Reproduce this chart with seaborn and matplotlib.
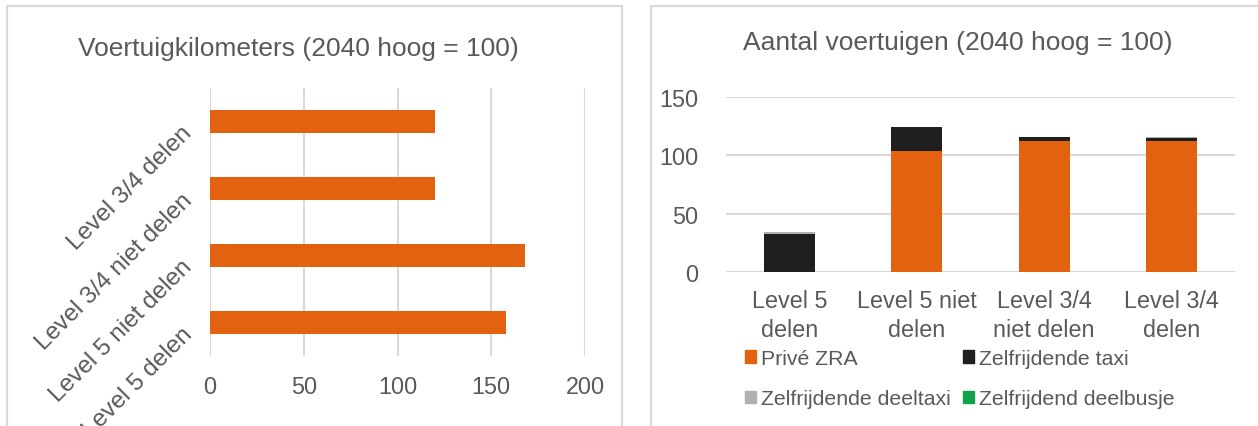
import matplotlib
matplotlib.use("Agg")
import matplotlib.pyplot as plt
import seaborn as sns
from matplotlib.patches import Patch, Rectangle

# Left chart: vehicle kilometres (2040 high = 100)
km_labels = ["Level 3/4 delen", "Level 3/4 niet delen", "Level 5 niet delen", "Level 5 delen"]
km_values = [120, 120, 168, 158]

# Right chart: number of vehicles, stacked
cat_labels = ["Level 5\ndelen", "Level 5 niet\ndelen", "Level 3/4\nniet delen", "Level 3/4\ndelen"]
prive_zra = [0, 103.5, 112, 112]
taxi = [32.5, 20.7, 3.7, 3.0]
deeltaxi = [1.4, 0, 0, 0.5]
deelbusje = [0.6, 0, 0, 0.5]

series_names = ["Privé ZRA", "Zelfrijdende taxi", "Zelfrijdende deeltaxi", "Zelfrijdend deelbusje"]
series_colors = ["#e36210", "#1f1f1f", "#b0b0b0", "#12a04a"]

text_col = "#595959"
grid_col = "#d9d9d9"

sns.set_style("white")
plt.rcParams["font.family"] = ["Liberation Sans", "DejaVu Sans"]
plt.rcParams["text.color"] = text_col
plt.rcParams["xtick.color"] = text_col
plt.rcParams["ytick.color"] = text_col

W, H = 1258, 427
fig = plt.figure(figsize=(W / 100, H / 100), dpi=100)


def px_axes(x0, x1, y0, y1):
    # pixel box (top-left origin) -> figure axes
    return fig.add_axes([x0 / W, 1 - y1 / H, (x1 - x0) / W, (y1 - y0) / H])


# panel frames
for x0, x1 in [(7, 622), (651, 1270)]:
    fig.add_artist(Rectangle((x0 / W, -0.1), (x1 - x0) / W, 1.1 - 7 / H,
                             transform=fig.transFigure, fill=False,
                             edgecolor=grid_col, lw=1.6))

# ---- left chart
ax1 = px_axes(210, 585, 89, 357)
sns.barplot(x=km_values, y=km_labels, orient="h", color=series_colors[0],
            saturation=1, width=0.34, linewidth=0, ax=ax1)
ax1.set_xlim(0, 200)
ax1.set_ylim(3.5, -0.5)
ax1.set_xticks([0, 50, 100, 150, 200])
ax1.grid(axis="x", color=grid_col, lw=1.5)
ax1.set_axisbelow(True)
sns.despine(ax=ax1, left=True, bottom=True)
ax1.tick_params(length=0, labelsize=16.8)
ax1.tick_params(axis="x", pad=14)
ax1.tick_params(axis="y", pad=21, labelsize=17.6)
for lbl in ax1.get_yticklabels():
    lbl.set_rotation(45)
    lbl.set_rotation_mode("anchor")
    lbl.set_ha("right")
    lbl.set_va("top")
ax1.set_xlabel("")
ax1.set_ylabel("")
fig.text(298 / W, 1 - 56 / H, "Voertuigkilometers (2040 hoog = 100)",
         ha="center", va="baseline", fontsize=19)

# ---- right chart
ax2 = px_axes(726, 1235, 98, 273)
layers = [prive_zra, taxi, deeltaxi, deelbusje]
cum = []
run = [0] * len(cat_labels)
for vals in layers:
    run = [a + b for a, b in zip(run, vals)]
    cum.append(run)
# draw tallest stack first so lower segments sit on top
for tops, col in reversed(list(zip(cum, series_colors))):
    sns.barplot(x=cat_labels, y=tops, color=col, saturation=1, width=0.4,
                linewidth=0, ax=ax2)
ax2.set_ylim(0, 150)
ax2.set_xlim(-0.5, 3.5)
ax2.set_yticks([0, 50, 100, 150])
ax2.grid(axis="y", color=grid_col, lw=1.5)
ax2.set_axisbelow(True)
sns.despine(ax=ax2, left=True, bottom=True)
ax2.tick_params(length=0, labelsize=16.8)
ax2.tick_params(axis="x", pad=12)
ax2.tick_params(axis="y", pad=20)
for lbl in ax2.get_xticklabels():
    lbl.set_linespacing(1.35)
ax2.set_xlabel("")
ax2.set_ylabel("")
fig.text(958 / W, 1 - 50 / H, "Aantal voertuigen (2040 hoog = 100)",
         ha="center", va="baseline", fontsize=19)

handles = [Patch(color=c, label=n) for n, c in zip(series_names, series_colors)]
order = [0, 2, 1, 3]
fig.legend([handles[i] for i in order], [series_names[i] for i in order],
           ncol=2, loc="upper left", bbox_to_anchor=(745 / W, 1 - 350 / H),
           frameon=False, fontsize=15.3, handlelength=0.5, handleheight=0.5,
           handletextpad=0.25, columnspacing=0.6, labelspacing=1.0,
           borderpad=0, borderaxespad=0, labelcolor=text_col)

fig.savefig("out.png", dpi=100)
